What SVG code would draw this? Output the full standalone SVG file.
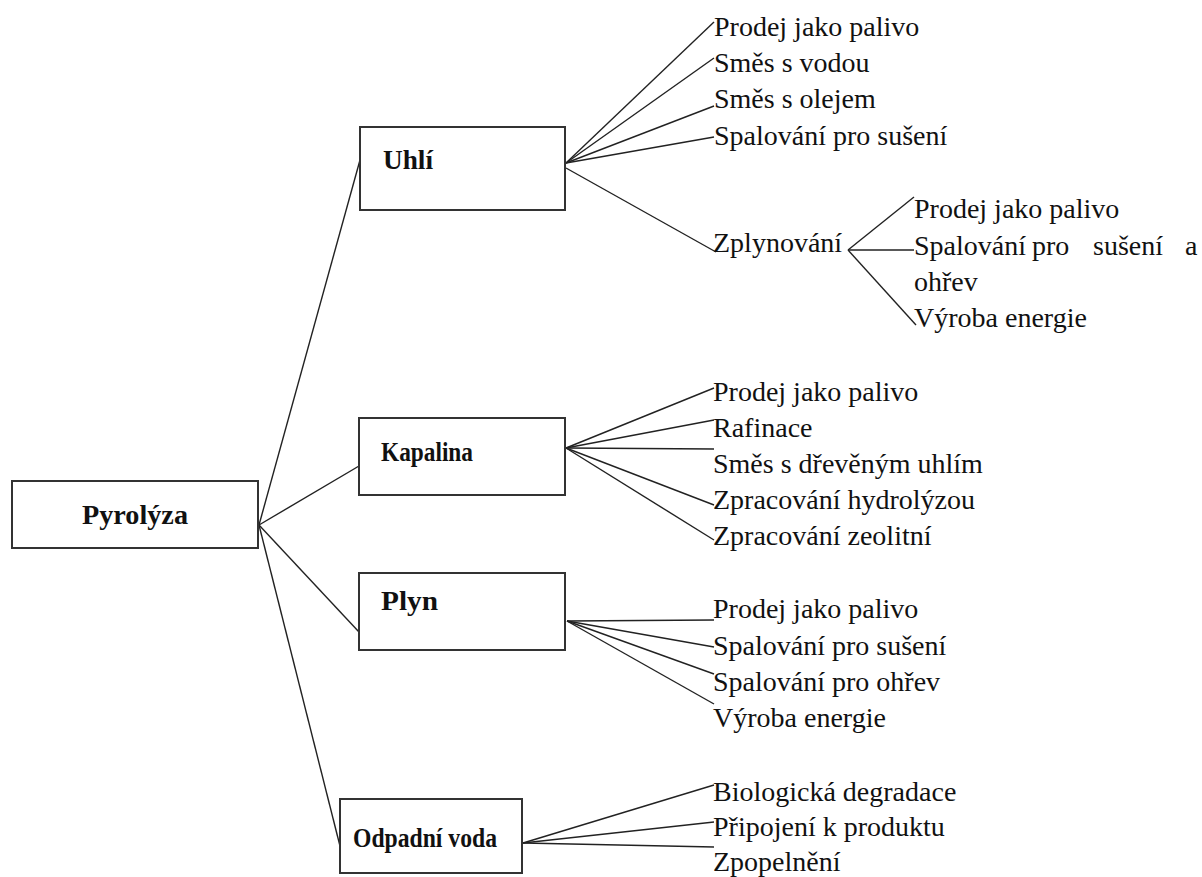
<svg xmlns="http://www.w3.org/2000/svg" width="1202" height="877" viewBox="0 0 1202 877">
<style>
.box{fill:#fff;stroke:#333;stroke-width:2}
.lbl{font-family:"Liberation Serif","Times New Roman",serif;font-weight:bold;font-size:27px;fill:#111}
.t{font-family:"Liberation Serif","Times New Roman",serif;font-size:28px;fill:#111}
.c line{stroke:#222;stroke-width:1.4}
</style>
<rect width="1202" height="877" fill="#fff"/>
<g id="connectors" class="c">
<line x1="259" y1="525" x2="360" y2="160"/>
<line x1="259" y1="525" x2="359" y2="466"/>
<line x1="259" y1="525" x2="359" y2="632"/>
<line x1="259" y1="525" x2="341" y2="850"/>
<line x1="566" y1="163" x2="714" y2="22"/>
<line x1="566" y1="163" x2="714" y2="58"/>
<line x1="566" y1="163" x2="714" y2="106"/>
<line x1="566" y1="163" x2="714" y2="137"/>
<line x1="566" y1="168" x2="716" y2="252"/>
<line x1="848" y1="250" x2="914" y2="197"/>
<line x1="848" y1="250" x2="914" y2="250"/>
<line x1="848" y1="250" x2="916" y2="325"/>
<line x1="566" y1="448" x2="714" y2="388"/>
<line x1="566" y1="448" x2="714" y2="420"/>
<line x1="566" y1="448" x2="714" y2="449"/>
<line x1="566" y1="448" x2="714" y2="505"/>
<line x1="566" y1="448" x2="714" y2="540"/>
<line x1="567" y1="621" x2="714" y2="620"/>
<line x1="567" y1="621" x2="714" y2="647"/>
<line x1="567" y1="621" x2="714" y2="674"/>
<line x1="567" y1="621" x2="714" y2="704"/>
<line x1="523" y1="843" x2="714" y2="785"/>
<line x1="523" y1="843" x2="714" y2="822"/>
<line x1="523" y1="843" x2="714" y2="847"/>
</g>
<g id="pyrolyza"><rect class="box" x="12" y="481" width="246" height="67"/><text class="lbl" x="82" y="524" textLength="106" lengthAdjust="spacingAndGlyphs">Pyrolýza</text></g>
<g id="uhli"><rect class="box" x="360" y="127" width="205" height="83"/><text class="lbl" x="383" y="169" textLength="50" lengthAdjust="spacingAndGlyphs">Uhlí</text></g>
<g id="kapalina"><rect class="box" x="359" y="418" width="206" height="77"/><text class="lbl" x="381" y="461" textLength="92" lengthAdjust="spacingAndGlyphs">Kapalina</text></g>
<g id="plyn"><rect class="box" x="359" y="573" width="206" height="77"/><text class="lbl" x="381" y="610" textLength="57" lengthAdjust="spacingAndGlyphs">Plyn</text></g>
<g id="odpadni-voda"><rect class="box" x="340" y="799" width="182" height="74"/><text class="lbl" x="353" y="847" textLength="144" lengthAdjust="spacingAndGlyphs">Odpadní voda</text></g>
<g id="uhli-items">
<text class="t" x="714" y="36">Prodej jako palivo</text>
<text class="t" x="714" y="72">Směs s vodou</text>
<text class="t" x="714" y="108">Směs s olejem</text>
<text class="t" x="714" y="145">Spalování pro sušení</text>
</g>
<g id="zplynovani"><text class="t" x="713" y="252">Zplynování</text></g>
<g id="zplynovani-items">
<text class="t" x="914" y="218">Prodej jako palivo</text>
<text class="t" y="255"><tspan x="914">Spalování</tspan><tspan x="1032">pro</tspan><tspan x="1093">sušení</tspan><tspan x="1185">a</tspan></text>
<text class="t" x="914" y="291">ohřev</text>
<text class="t" x="914" y="327">Výroba energie</text>
</g>
<g id="kapalina-items">
<text class="t" x="713" y="401">Prodej jako palivo</text>
<text class="t" x="713" y="437">Rafinace</text>
<text class="t" x="713" y="473">Směs s dřevěným uhlím</text>
<text class="t" x="713" y="509">Zpracování hydrolýzou</text>
<text class="t" x="713" y="545">Zpracování zeolitní</text>
</g>
<g id="plyn-items">
<text class="t" x="713" y="618">Prodej jako palivo</text>
<text class="t" x="713" y="655">Spalování pro sušení</text>
<text class="t" x="713" y="691">Spalování pro ohřev</text>
<text class="t" x="713" y="727">Výroba energie</text>
</g>
<g id="odpadni-items">
<text class="t" x="713" y="801">Biologická degradace</text>
<text class="t" x="713" y="836">Připojení k produktu</text>
<text class="t" x="713" y="871">Zpopelnění</text>
</g>
</svg>
